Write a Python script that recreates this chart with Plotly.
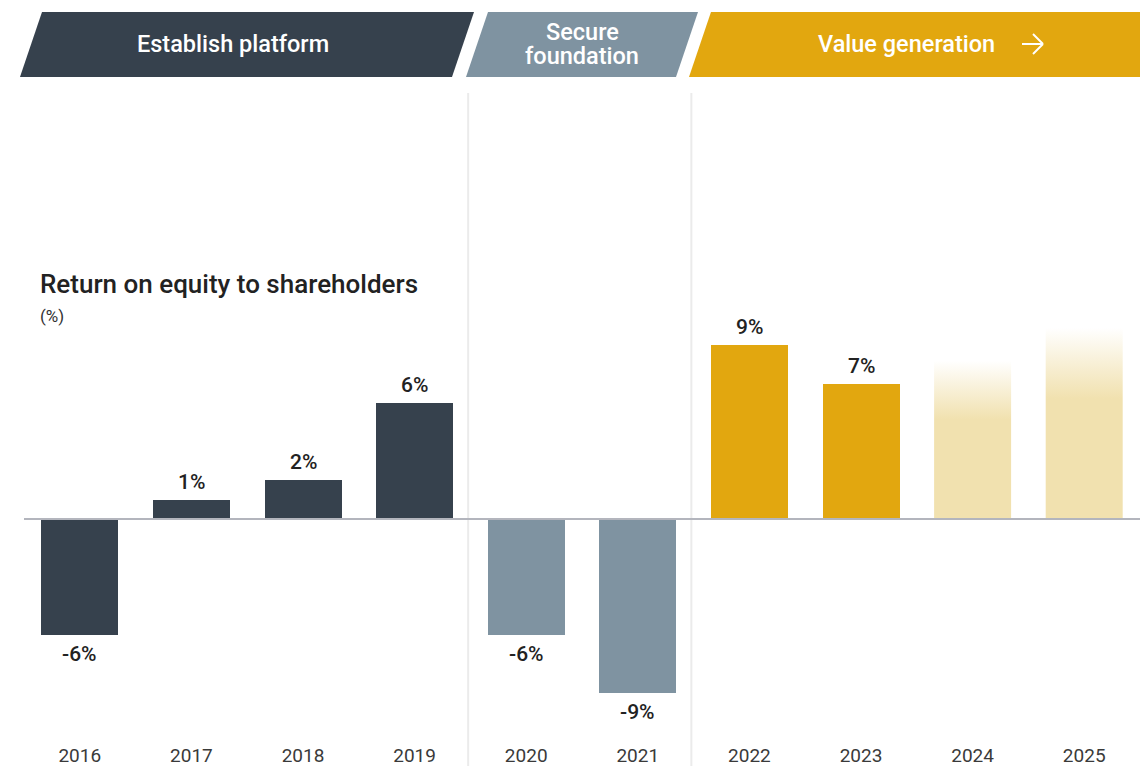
import plotly.graph_objects as go

# ---- data ----
years = ["2016", "2017", "2018", "2019", "2020", "2021", "2022", "2023", "2024", "2025"]
roe = [-6, 1, 2, 6, -6, -9, 9, 7, 8.2, 9.9]
labels = ["-6%", "1%", "2%", "6%", "-6%", "-9%", "9%", "7%", "", ""]
phase = ["establish"] * 4 + ["secure"] * 2 + ["value"] * 2 + ["target"] * 2
phase_lines = [["Establish platform"], ["Secure", "foundation"], ["Value generation"]]
title_text = "Return on equity to shareholders"
unit_text = "(%)"

# ---- styles ----
W, H = 1140, 766
colors = {"establish": "#36414D", "secure": "#7F93A1", "value": "#E2A70F", "target": "#F1E1AF"}
FONT = "Roboto"
BAR_W = 0.69
SOLID_FRAC = 0.63  # lower part of target bars that is fully coloured


def px_x(p):
    return p / W


def px_y(p):
    return (H - p) / H


fig = go.Figure()
xs = list(range(len(years)))

# solid bars (non-target)
for ph in ["establish", "secure", "value"]:
    idx = [i for i in xs if phase[i] == ph]
    fig.add_trace(go.Bar(
        x=idx, y=[roe[i] for i in idx], width=BAR_W,
        marker=dict(color=colors[ph], line=dict(width=0)),
        hoverinfo="skip", showlegend=False))

# target bars with fading top (vertical gradient fill)
for i in xs:
    if phase[i] != "target":
        continue
    v = roe[i]
    hx = BAR_W / 2
    fig.add_trace(go.Scatter(
        x=[i - hx, i + hx, i + hx, i - hx, i - hx], y=[0, 0, v, v, 0],
        mode="lines", line=dict(width=0), fill="toself",
        fillgradient=dict(type="vertical", start=0, stop=v,
                          colorscale=[[0, "rgba(241,225,175,1)"],
                                      [SOLID_FRAC, "rgba(241,225,175,1)"],
                                      [0.8, "rgba(241,225,175,0.55)"],
                                      [1, "rgba(241,225,175,0)"]]),
        hoverinfo="skip", showlegend=False))

# value labels
for i in xs:
    if not labels[i]:
        continue
    v = roe[i]
    fig.add_annotation(x=i, y=v, text=labels[i], showarrow=False,
                       yanchor="bottom" if v > 0 else "top",
                       yshift=4 if v > 0 else -5,
                       font=dict(family=FONT, size=21, color="#222222", weight=500))

shapes = []
# phase dividers
for xv in [3.5, 5.5]:
    shapes.append(dict(type="line", xref="x", yref="paper", x0=xv - 0.02, x1=xv - 0.02,
                       y0=0, y1=px_y(93), line=dict(color="#ebebeb", width=2), layer="below"))
# zero line
shapes.append(dict(type="line", xref="paper", yref="y", x0=px_x(24), x1=1, y0=0, y1=0,
                   line=dict(color="#b3b5bd", width=2), layer="above"))

# banners
ban = [
    ([(42, 12), (474, 12), (452, 77), (20, 77)], colors["establish"], 233, [44.5]),
    ([(488, 12), (698, 12), (676, 77), (466, 77)], colors["secure"], 582, [32, 56]),
    ([(711, 12), (1140, 12), (1140, 77), (689, 77)], colors["value"], 906, [44.5]),
]
for (pts, col, cx, ys), lines in zip(ban, phase_lines):
    path = "M " + " L ".join(f"{px_x(x):.5f},{px_y(y):.5f}" for x, y in pts) + " Z"
    shapes.append(dict(type="path", xref="paper", yref="paper", path=path,
                       fillcolor=col, line=dict(width=0), layer="above"))
    for txt, yy in zip(lines, ys):
        fig.add_annotation(xref="paper", yref="paper", x=px_x(cx), y=px_y(yy), text=txt,
                           showarrow=False, xanchor="center", yanchor="middle",
                           font=dict(family=FONT, size=23.5, color="white", weight=500))

# arrow after "Value generation"
ax0, ax1, ay, ah = 1022, 1043, 44, 10
arrow_w = dict(color="white", width=2)
shapes.append(dict(type="line", xref="paper", yref="paper", x0=px_x(ax0), x1=px_x(ax1),
                   y0=px_y(ay), y1=px_y(ay), line=arrow_w, layer="above"))
shapes.append(dict(type="line", xref="paper", yref="paper", x0=px_x(ax1 - ah), x1=px_x(ax1),
                   y0=px_y(ay - ah), y1=px_y(ay), line=arrow_w, layer="above"))
shapes.append(dict(type="line", xref="paper", yref="paper", x0=px_x(ax1 - ah), x1=px_x(ax1),
                   y0=px_y(ay + ah), y1=px_y(ay), line=arrow_w, layer="above"))

fig.add_annotation(xref="paper", yref="paper", x=px_x(38), y=px_y(284), text=title_text,
                   showarrow=False, xanchor="left", yanchor="middle",
                   font=dict(family=FONT, size=26, color="#222222", weight=500))
fig.add_annotation(xref="paper", yref="paper", x=px_x(38), y=px_y(316), text=unit_text,
                   showarrow=False, xanchor="left", yanchor="middle",
                   font=dict(family=FONT, size=17, color="#333333"))

ppp = 19.3
fig.update_layout(
    width=W, height=H,
    margin=dict(l=0, r=0, t=0, b=0),
    paper_bgcolor="white", plot_bgcolor="white",
    barmode="overlay", bargap=0,
    shapes=shapes,
    xaxis=dict(domain=[px_x(24), 1], range=[-0.5, len(years) - 0.5],
               tickmode="array", tickvals=xs, ticktext=years,
               tickfont=dict(family=FONT, size=19, color="#3a3a3a", weight=400),
               showgrid=False, zeroline=False, showline=False, ticks="",
               automargin=False, fixedrange=True),
    yaxis=dict(domain=[px_y(742), px_y(93)],
               range=[-(742 - 519) / ppp, (519 - 93) / ppp],
               showgrid=False, zeroline=False, showticklabels=False, showline=False,
               automargin=False, fixedrange=True),
    showlegend=False,
)

fig.write_html("out.html", config={"displayModeBar": False},
               post_script="document.body.style.margin='0';document.body.style.overflow='hidden';")
